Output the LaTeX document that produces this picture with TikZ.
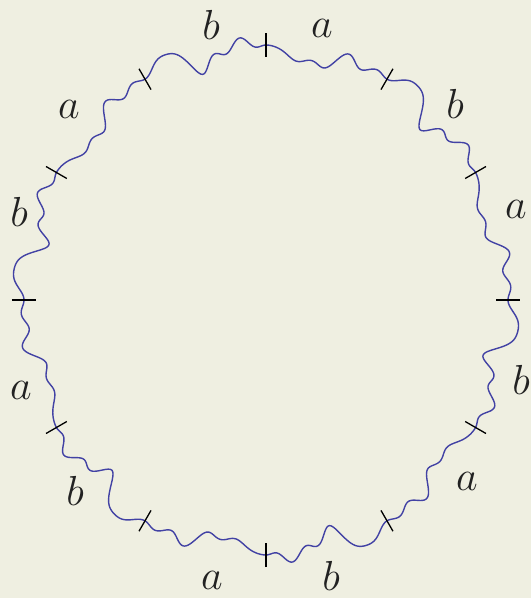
\RequirePackage{fix-cm}
\documentclass[tikz,border=0pt]{standalone}
\usepackage{tikz}
\usetikzlibrary{calc}

\definecolor{paper}{RGB}{239,239,225}
\definecolor{wavecol}{RGB}{66,66,164}
\definecolor{inkcol}{RGB}{34,34,34}

\begin{document}
\begin{tikzpicture}[
    x=1pt, y=1pt,
    wave/.style={wavecol, line width=1.4pt, line join=round, line cap=round},
    tickmark/.style={black, line width=1.3pt},
    letter/.style={text=inkcol, inner sep=0pt,
                   font=\fontsize{42}{50}\selectfont},
    declare function={
      wa(\t) = sin(180*\t)*(-0.10*sin(270*\t)*(1-\t) + 0.045*\t*sin(1260*\t));
      wb(\t) = sin(180*\t)*(0.12*sin(540*\t)*(1-\t) + 0.045*\t*sin(1440*\t));
      ex(\s,\r) = 242*\r*sin(\s);
      ey(\s,\r) = 255*\r*cos(\s);
    },
]

% ============================================================
% Canvas
% ============================================================
\path[use as bounding box, fill=paper] (-266,-298) rectangle (265,300);

% ============================================================
% Vertices of the 12-gon (clockwise from the top)
% ============================================================
\foreach \k in {0,...,11}
  \coordinate (v\k) at ({ex(30*\k,1)}, {ey(30*\k,1)});

% ============================================================
% Wavy edges: a and b alternate
% ============================================================
\foreach \k in {0,2,...,10} {
  \draw[wave] plot[smooth, domain=0:1, samples=90, variable=\t]
    ({ex(30*\k+30*\t, 1+wa(\t))}, {ey(30*\k+30*\t, 1+wa(\t))});
  \draw[wave] plot[smooth, domain=0:1, samples=90, variable=\t]
    ({ex(30*\k+30+30*\t, 1+wb(\t))}, {ey(30*\k+30+30*\t, 1+wb(\t))});
}

% ============================================================
% Ticks at the vertices
% ============================================================
\foreach \k in {0,...,11}
  \draw[tickmark] (v\k) ++({90-30*\k}:12) -- ++({270-30*\k}:24);

% ============================================================
% Edge labels
% ============================================================
\foreach \x/\y/\w [count=\n] in {56/272/a, 189/196/b, 250/91/a, 255/-80/b,
    201/-181/a, 65/-276/b, -54/-280/a, -191/-191/b, -245/-90/a,
    -247/88/b, -197/191/a, -55/275/b}
  \node[letter] (lab\n) at (\x,\y) {$\w$};

\end{tikzpicture}
\end{document}
